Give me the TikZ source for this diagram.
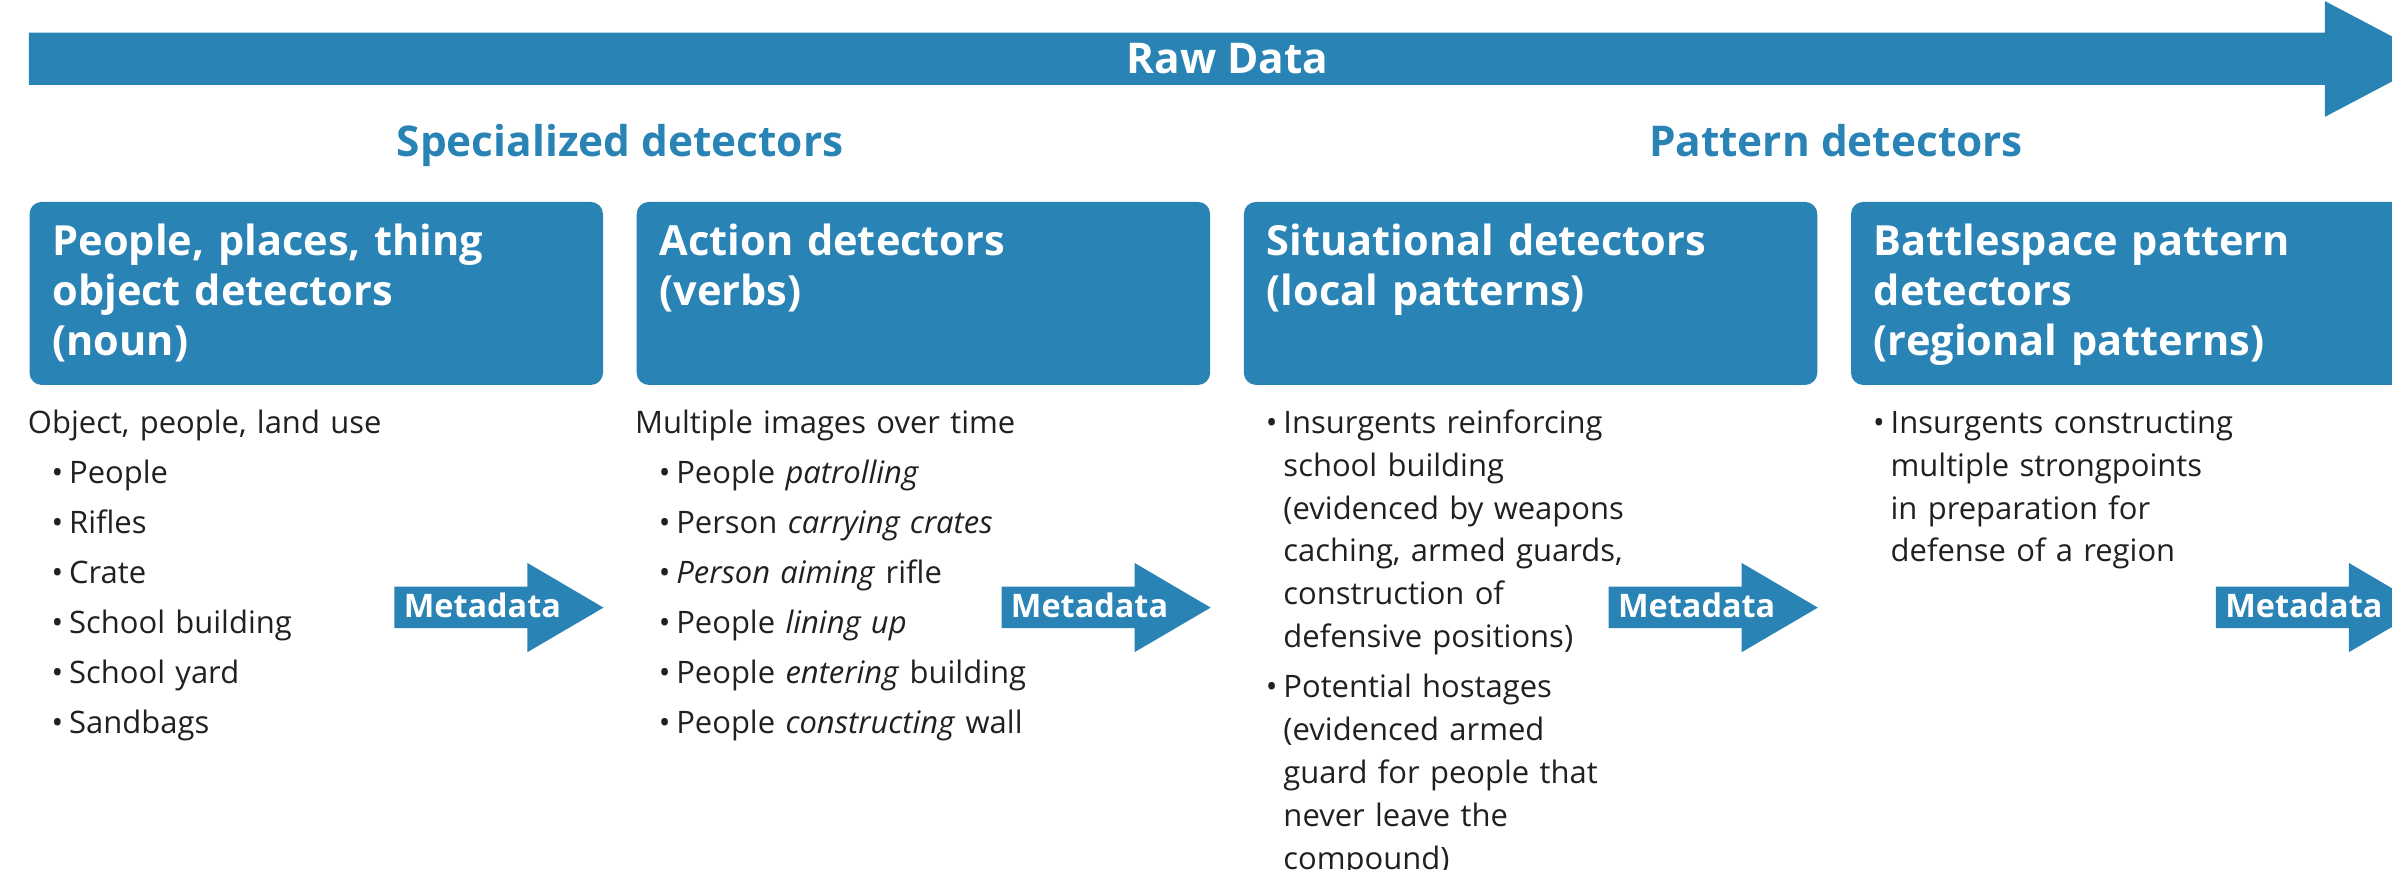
\documentclass[tikz,border=0pt]{standalone}
\usepackage{fontspec}
\setmainfont{Open Sans}

\definecolor{rawblue}{RGB}{41,131,181}
\definecolor{listgray}{RGB}{35,31,32}

% bullet paragraph with hanging indent
\newcommand\bulline[1]{\leftskip=0.31cm\hangindent=0.23cm\hangafter=1\noindent\hbox to 0.23cm{\textbullet\hfil}#1\par}
\newcommand\bul[1]{\par\vskip2.7pt\bulline{#1}}

\tikzset{
  detbox/.style={anchor=north west, fill=rawblue, rounded corners=0.16cm,
    minimum width=7.52cm, minimum height=2.4cm, inner sep=0pt},
  boxtitle/.style={anchor=base west, text width=7cm, align=left, inner sep=0pt,
    text=white, font=\bfseries\fontsize{15.5}{18.7}\selectfont},
  grouphead/.style={anchor=base, inner sep=0pt, text=rawblue,
    font=\bfseries\fontsize{15.8}{19}\selectfont},
  detlist/.style={anchor=base west, text width=7.2cm, align=left, inner sep=0pt,
    text=listgray, font=\fontsize{11.55}{16}\selectfont},
  metalabel/.style={anchor=base, inner sep=0pt, text=white,
    font=\bfseries\fontsize{12.1}{14}\selectfont},
  metaarrow/.pic={
    \fill[rawblue] (0,384.6) -- (87.2,384.6) -- (87.2,369) -- (137.1,398.3)
      -- (87.2,427.5) -- (87.2,411.8) -- (0,411.8) -- cycle;
    \node[metalabel] (-label) at (57.7,405) {Metadata};
  }
}

\begin{document}
\begin{tikzpicture}[x=0.02cm, y=-0.02cm]
        \useasboundingbox (0,0) rectangle (1568,569.65);
        \clip (0,0) rectangle (1568,569.65);

        % raw data band
        \fill[rawblue] (19,21.4) -- (1524,21.4) -- (1524,0.7) -- (1596,38.6)
            -- (1524,76.6) -- (1524,55.7) -- (19,55.7) -- cycle;
        \node[grouphead, text=white] (raw) at (804.6,48) {Raw Data};

        % group headings
        \node[grouphead] (special) at (406.5,102.7) {Specialized detectors};
        \node[grouphead] (pattern) at (1203.5,102.7) {Pattern detectors};

        % detector boxes
        \node[detbox] (people)     at (19 + 0 * 398, 132) {};
        \node[detbox] (action)     at (19 + 1 * 398, 132) {};
        \node[detbox] (situation)  at (19 + 2 * 398, 132) {};
        \node[detbox] (battle)     at (19 + 3 * 398, 132) {};

        \node[boxtitle] (peopletitle)    at (34 + 0 * 398, 167.2) {People, places, thing\\object detectors\\(noun)};
        \node[boxtitle] (actiontitle)    at (34 + 1 * 398, 167.2) {Action detectors\\(verbs)};
        \node[boxtitle] (situationtitle) at (34 + 2 * 398, 167.2) {Situational detectors\\(local patterns)};
        \node[boxtitle] (battletitle)    at (34 + 3 * 398, 167.2) {Battlespace pattern\\detectors\\(regional patterns)};

        % lists under the boxes
        \node[detlist] (peoplelist) at (18 + 0 * 398, 284) {Object, people, land use
            \bul{People}
            \bul{Rifles}
            \bul{Crate}
            \bul{School building}
            \bul{School yard}
            \bul{Sandbags}};
        \node[detlist] (actionlist) at (18 + 1 * 398, 284) {Multiple images over time
            \bul{People \textit{patrolling}}
            \bul{Person \textit{carrying crates}}
            \bul{\textit{Person aiming} rifle}
            \bul{People \textit{lining up}}
            \bul{People \textit{entering} building}
            \bul{People \textit{constructing} wall}};
        \node[detlist] (situationlist) at (18 + 2 * 398, 284) {%
            \bulline{Insurgents reinforcing\newline school building\newline (evidenced by weapons\newline caching, armed guards,\newline construction of\newline defensive positions)}
            \bul{Potential hostages\newline (evidenced armed\newline guard for people that\newline never leave the\newline compound)}};
        \node[detlist] (battlelist) at (18 + 3 * 398, 284) {%
            \bulline{Insurgents constructing\newline multiple strongpoints\newline in preparation for\newline defense of a region}};

        % metadata arrows
        \pic (meta1) at (258.5 + 0 * 398, 0) {metaarrow};
        \pic (meta2) at (258.5 + 1 * 398, 0) {metaarrow};
        \pic (meta3) at (258.5 + 2 * 398, 0) {metaarrow};
        \pic (meta4) at (258.5 + 3 * 398, 0) {metaarrow};

    \end{tikzpicture}
\end{document}
